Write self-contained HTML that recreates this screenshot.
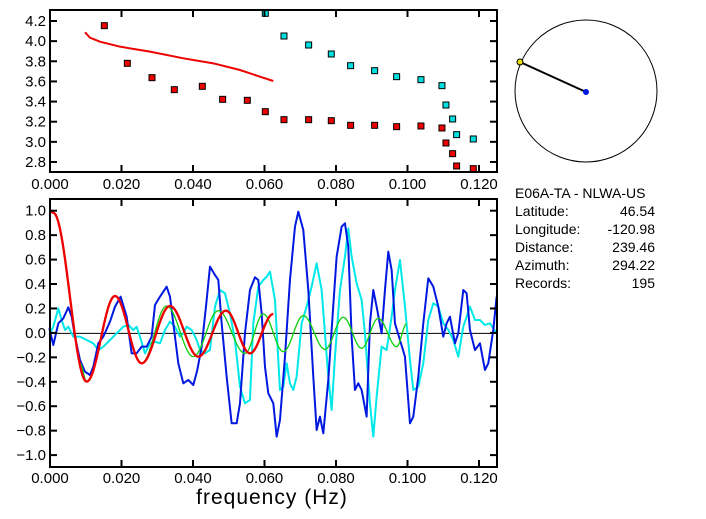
<!DOCTYPE html>
<html><head><style>body{margin:0;background:#fff}svg{display:block}text{font-family:"Liberation Sans",sans-serif}</style></head><body>
<svg id="s" width="706" height="519" xmlns="http://www.w3.org/2000/svg">
<rect width="706" height="519" fill="#fff"/>
<g id="topg" transform="scale(0.3333)">
<polyline fill="none" stroke="#e00" stroke-width="6" points="255,97 270,113 300,125 360,140 450,155 550,175 640,190 720,210 780,230 820,243"/>
</g>
<g id="bot" transform="translate(0,190) scale(0.3333)" fill="none" stroke-linejoin="round">
<line x1="148" y1="430" x2="1492" y2="430" stroke="#000" stroke-width="3"/>
<polyline stroke="#00e8e8" stroke-width="6" points="148,435 160,410 175,355 185,390 195,420 205,410 220,440 240,440 260,450 280,460 295,480 310,470 330,450 350,430 370,410 385,405 400,420 410,410 420,440 435,490 450,460 465,455 480,460 495,420 510,395 525,410 540,440 550,430 560,410 575,420 590,450 600,480 615,490 630,480 645,350 660,300 675,310 690,370 705,450 720,590 735,640 750,630 760,400 775,290 790,270 800,260 810,245 825,330 840,600 850,590 860,520 870,580 880,600 890,560 905,400 920,350 935,290 950,220 965,300 985,560 995,660 1005,500 1020,300 1035,200 1045,115 1055,200 1070,280 1085,330 1095,430 1110,640 1120,740 1130,620 1145,470 1160,480 1175,380 1185,300 1200,210 1215,350 1230,510 1240,600 1255,590 1270,520 1285,390 1300,340 1315,350 1330,400 1345,420 1360,450 1375,500 1390,410 1410,350 1425,390 1440,390 1455,405 1470,400 1490,430"/>
<polyline stroke="#0018e0" stroke-width="6" points="148,415 160,465 175,400 190,385 205,352 215,380 225,440 240,510 255,545 270,555 280,530 295,460 310,440 330,395 345,350 362,320 380,380 395,490 410,490 425,470 440,470 455,440 465,345 480,320 500,290 510,320 520,400 535,520 550,580 565,570 580,585 592,540 605,470 618,350 630,230 645,255 655,270 665,400 680,560 695,700 710,700 720,640 735,430 750,300 765,262 775,270 785,370 795,530 805,610 820,640 830,740 840,690 855,500 870,270 885,110 895,65 910,120 925,300 940,560 950,720 960,680 970,730 985,570 995,420 1010,200 1025,110 1035,100 1045,170 1055,440 1065,600 1075,580 1085,600 1100,680 1110,400 1120,300 1130,350 1145,430 1155,300 1165,185 1175,240 1185,400 1200,450 1215,500 1230,700 1240,680 1255,560 1270,400 1285,265 1300,290 1315,350 1330,440 1340,400 1350,380 1365,460 1375,430 1390,300 1400,310 1410,420 1425,480 1440,460 1455,540 1465,520 1480,420 1490,320"/>
<polyline id="gr" stroke="#10d010" stroke-width="4"/>
<polyline id="rd" stroke="#e00" stroke-width="7"/>
</g>
<g id="ax" stroke="#000" stroke-width="2"></g>
<g font-size="15" fill="#000" id="lab"></g>
<text x="272" y="504" font-size="21" text-anchor="middle" letter-spacing="1">frequency (Hz)</text>
<circle cx="586" cy="91" r="71" fill="none" stroke="#000" stroke-width="1"/>
<line x1="520" y1="62" x2="586" y2="92" stroke="#000" stroke-width="2"/>
<circle cx="520" cy="62" r="3" fill="#e8e000" stroke="#000"/>
<circle cx="586" cy="92" r="3" fill="#0018e0"/>
<g font-size="14" fill="#000">
<text x="515" y="198">E06A-TA - NLWA-US</text>
<text x="515" y="216">Latitude:</text><text x="655" y="216" text-anchor="end">46.54</text>
<text x="515" y="234">Longitude:</text><text x="655" y="234" text-anchor="end">-120.98</text>
<text x="515" y="252">Distance:</text><text x="655" y="252" text-anchor="end">239.46</text>
<text x="515" y="270">Azimuth:</text><text x="655" y="270" text-anchor="end">294.22</text>
<text x="515" y="288">Records:</text><text x="655" y="288" text-anchor="end">195</text>
</g>
</svg>
<script>
(function(){
var NS="http://www.w3.org/2000/svg";
function el(p,t,a){var e=document.createElementNS(NS,t);for(var k in a)e.setAttribute(k,a[k]);p.appendChild(e);return e;}
function interp(ex){var pts=[];for(var i=0;i<ex.length-1;i++){var a=ex[i],b=ex[i+1];for(var j=0;j<20;j++){var t=j/20;var u=(1-Math.cos(Math.PI*t))/2;pts.push((a[0]+(b[0]-a[0])*t).toFixed(1)+","+(a[1]+(b[1]-a[1])*u).toFixed(1));}}var l=ex[ex.length-1];pts.push(l[0]+","+l[1]);return pts.join(" ");}
document.getElementById("rd").setAttribute("points",interp([[148,62],[160,68],[260,575],[345,318],[425,520],[510,348],[595,500],[678,362],[750,490],[820,372]]));
document.getElementById("gr").setAttribute("points",interp([[240,520],[260,575],[345,318],[425,520],[500,348],[580,500],[655,362],[735,490],[790,372],[850,485],[910,377],[975,478],[1030,382],[1085,475],[1135,385],[1190,470],[1220,402]]));
var tg=document.getElementById("topg");
var red=[[313,77],[382,190],[456,233],[523,269],[607,259],[668,298],[742,301],[796,335],[852,359],[926,359],[994,362],[1052,376],[1124,376],[1190,380],[1263,378],[1326,384],[1338,429],[1358,461],[1370,498],[1420,506]];
var cy=[[796,40],[852,108],[926,135],[994,162],[1052,197],[1124,212],[1190,230],[1263,239],[1326,257],[1338,315],[1358,357],[1370,404],[1420,417]];
red.forEach(function(p){el(tg,"rect",{x:p[0]-9,y:p[1]-9,width:18,height:18,fill:"#e00",stroke:"#000","stroke-width":3});});
cy.forEach(function(p){el(tg,"rect",{x:p[0]-9,y:p[1]-9,width:18,height:18,fill:"#00e0e0",stroke:"#000","stroke-width":3});});
var ax=document.getElementById("ax"),lab=document.getElementById("lab");
function X(f){return 50+f*3575;}
function box(y0,y1){el(ax,"rect",{x:50,y:y0,width:447,height:y1-y0,fill:"none"});
for(var i=0;i<=6;i++){var x=X(i*0.02);el(ax,"line",{x1:x,y1:y0,x2:x,y2:y0+7});el(ax,"line",{x1:x,y1:y1,x2:x,y2:y1-7});}}
box(10,172);box(199,467);
for(var i=0;i<=6;i++){var x=X(i*0.02),s=(i*0.02).toFixed(3);el(lab,"text",{x:x,y:189,"text-anchor":"middle"}).textContent=s;el(lab,"text",{x:x,y:483,"text-anchor":"middle"}).textContent=s;}
for(var v=2.8;v<4.25;v+=0.2){var y=21+(4.2-v)*100.7;el(ax,"line",{x1:50,y1:y,x2:57,y2:y});el(ax,"line",{x1:497,y1:y,x2:490,y2:y});el(lab,"text",{x:46,y:y+5,"text-anchor":"end"}).textContent=v.toFixed(1);}
for(var k=-5;k<=5;k++){var v=k*0.2,y=332.9-v*122.2;el(ax,"line",{x1:50,y1:y,x2:57,y2:y});el(ax,"line",{x1:497,y1:y,x2:490,y2:y});el(lab,"text",{x:46,y:y+5,"text-anchor":"end"}).textContent=(k<0?"\u2212":"")+Math.abs(v).toFixed(1);}
})();
</script>
</body></html>
